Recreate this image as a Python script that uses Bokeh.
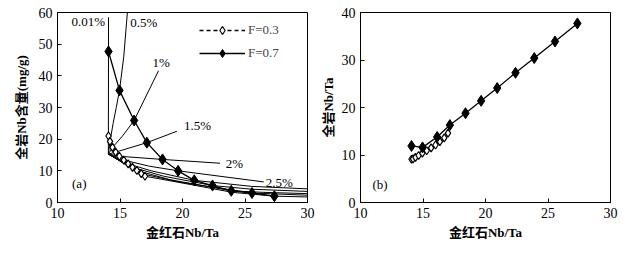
from bokeh.plotting import figure
from bokeh.layouts import row
from bokeh.models import Range1d, Label, Legend, LegendItem, FixedTicker
from bokeh.embed import file_html
from bokeh.resources import INLINE

# ---------------- data ----------------
# F = 0.7 (filled diamonds)
f07_x = [14.08, 14.96, 16.13, 17.15, 18.4, 19.65, 20.94, 22.4, 23.9, 25.56, 27.35]
f07_nb = [47.7, 35.4, 25.9, 18.9, 13.6, 10.0, 7.0, 5.35, 3.7, 3.0, 2.0]
f07_ratio = [11.9, 11.6, 13.8, 16.3, 18.8, 21.4, 24.1, 27.3, 30.4, 33.9, 37.7]

# F = 0.3 (open diamonds)
f03_x = [14.08, 14.2, 14.4, 14.65, 14.95, 15.3, 15.65, 16.0, 16.35, 16.7, 17.0]
f03_nb = [21.0, 19.3, 17.4, 15.9, 14.6, 13.4, 12.2, 11.1, 10.1, 9.1, 8.3]
f03_ratio = [9.1, 9.2, 9.5, 9.9, 10.4, 10.9, 11.5, 12.1, 12.8, 13.6, 14.6]

# rutile-content curves in panel (a)
curve_labels = ["0.01%", "0.5%", "1%", "1.5%", "2%", "2.5%", "", "", "", "", ""]
curves_x = [
    [14.07, 14.07, 14.08, 14.08],
    [14.07, 14.2, 14.45, 14.7, 14.96, 15.3, 15.6],
    [14.07, 14.4, 15.2, 16.13, 18.08],
    [14.07, 14.65, 17.15, 19.55],
    [14.07, 14.95, 18.4, 23.0],
    [14.07, 15.3, 17.3, 19.65, 26.5],
    [14.07, 15.65, 17.5, 20.94, 25.5, 30.0],
    [14.07, 16.0, 18.5, 22.4, 25.5, 30.0],
    [14.07, 16.35, 19.0, 23.9, 26.5, 30.0],
    [14.07, 16.7, 20.0, 25.56, 30.0],
    [14.07, 17.0, 20.2, 24.0, 27.35, 30.0],
]
curves_y = [
    [15.3, 21.0, 47.7, 58.5],
    [15.3, 19.3, 25.0, 30.0, 35.4, 46.0, 60.5],
    [15.3, 17.4, 21.0, 25.9, 41.6],
    [15.3, 15.9, 18.9, 22.5],
    [15.3, 14.6, 13.6, 12.4],
    [15.3, 13.4, 11.5, 10.0, 6.5],
    [15.3, 12.2, 10.0, 7.0, 5.1, 4.3],
    [15.3, 11.1, 8.3, 5.35, 4.2, 3.5],
    [15.3, 10.1, 7.2, 3.7, 3.2, 2.8],
    [15.3, 9.1, 6.3, 3.0, 2.3],
    [15.3, 8.3, 6.0, 3.2, 2.0, 1.75],
]
# label anchor positions (data units) for curve labels
label_x = [12.46, 16.9, 18.3, 21.2, 24.15, 27.75]
label_y = [57.1, 56.75, 44.2, 24.3, 12.4, 6.4]

x_ticks = [10, 15, 20, 25, 30]
ya_ticks = [0, 10, 20, 30, 40, 50, 60]
yb_ticks = [0, 10, 20, 30, 40]

SERIF = "Liberation Serif"
MIX = "'Liberation Serif', 'Noto Sans CJK SC'"


def style(p, yt):
    p.outline_line_color = "black"
    p.outline_line_width = 1
    p.grid.visible = False
    p.xaxis.ticker = FixedTicker(ticks=x_ticks)
    p.yaxis.ticker = FixedTicker(ticks=yt)
    for ax in (p.xaxis[0], p.yaxis[0]):
        ax.major_tick_in = 4
        ax.major_tick_out = 0
        ax.minor_tick_line_color = None
        ax.axis_line_color = "black"
        ax.major_tick_line_color = "black"
        ax.major_label_text_font = SERIF
        ax.major_label_text_font_size = "14px"
        ax.major_label_text_color = "black"
        ax.major_label_standoff = 5
        ax.axis_label_text_font = MIX
        ax.axis_label_text_font_size = "13px"
        ax.axis_label_text_font_style = "bold"
        ax.axis_label_text_color = "black"
    p.xaxis.axis_label_standoff = 4
    p.background_fill_color = "white"
    p.border_fill_color = "white"


# ---------------- panel (a) ----------------
pa = figure(width=317, height=247, x_range=Range1d(10, 30), y_range=Range1d(0, 60),
            output_backend="svg", toolbar_location=None,
            min_border_left=57, min_border_right=10, min_border_top=12, min_border_bottom=45)
style(pa, ya_ticks)
pa.xaxis.axis_label = "金红石Nb/Ta"
pa.yaxis.axis_label = "全岩Nb含量(mg/g)"
pa.yaxis.axis_label_standoff = 7

for cx, cy in zip(curves_x, curves_y):
    pa.line(cx, cy, line_color="black", line_width=1)

for t, lx, ly in zip(curve_labels, label_x, label_y):
    pa.add_layout(Label(x=lx, y=ly, text=t, text_align="center", text_baseline="middle",
                        text_font=SERIF, text_font_size="13px", text_color="black"))
pa.add_layout(Label(x=11.74, y=5.9, text="(a)", text_align="center", text_baseline="middle",
                    text_font=SERIF, text_font_size="13px", text_color="black"))

l03 = pa.line(f03_x, f03_nb, line_color="black", line_width=1.5, line_dash="4 3")
s03 = pa.scatter(f03_x, f03_nb, marker="diamond", size=8, fill_color="white",
                 line_color="black", line_width=1.2)
l07 = pa.line(f07_x, f07_nb, line_color="black", line_width=1.3)
s07 = pa.scatter(f07_x, f07_nb, marker="diamond", size=11, fill_color="black", line_color="black")

leg = Legend(items=[LegendItem(label="F=0.3", renderers=[l03, s03]),
                    LegendItem(label="F=0.7", renderers=[l07, s07])],
             location=(142, 139), orientation="vertical",
             glyph_width=46, glyph_height=20, label_height=20, spacing=3,
             label_standoff=3, padding=0, margin=0,
             border_line_color=None, background_fill_alpha=0,
             label_text_font=SERIF, label_text_font_size="13px")
pa.add_layout(leg)

# ---------------- panel (b) ----------------
pb = figure(width=303, height=247, x_range=Range1d(10, 30), y_range=Range1d(0, 40),
            output_backend="svg", toolbar_location=None,
            min_border_left=41, min_border_right=10, min_border_top=12, min_border_bottom=45)
style(pb, yb_ticks)
pb.xaxis.axis_label = "金红石Nb/Ta"
pb.yaxis.axis_label = "全岩Nb/Ta"
pb.yaxis.axis_label_standoff = 3

pb.line(f03_x, f03_ratio, line_color="black", line_width=1.5, line_dash="4 3")
pb.scatter(f03_x, f03_ratio, marker="diamond", size=8, fill_color="white",
           line_color="black", line_width=1.2)
pb.line(f07_x, f07_ratio, line_color="black", line_width=1.3)
pb.scatter(f07_x, f07_ratio, marker="diamond", size=11, fill_color="black", line_color="black")
pb.add_layout(Label(x=11.56, y=3.83, text="(b)", text_align="center", text_baseline="middle",
                    text_font=SERIF, text_font_size="13px", text_color="black"))

layout = row(pa, pb)
open("out.html", "w").write(file_html(layout, INLINE))
